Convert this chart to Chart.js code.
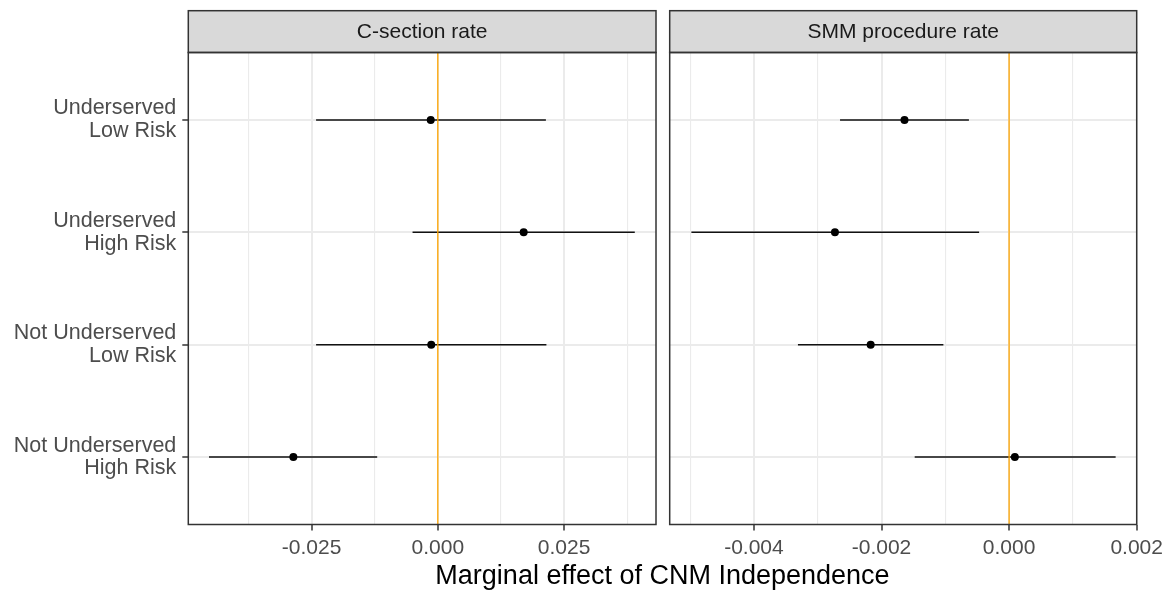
<!DOCTYPE html>
<html>
<head>
<meta charset="utf-8">
<script src="https://cdn.jsdelivr.net/npm/chart.js@4.4.1/dist/chart.umd.min.js"></script>
<style>
  body { margin: 0; background: #fff; }
  #wrap { position: relative; width: 1172px; height: 591px; }
  .panel { position: absolute; top: 0; height: 591px; }
  #p-left { left: 0; width: 662px; }
  #p-right { left: 662px; width: 510px; }
  #xtitle {
    position: absolute; left: 188px; width: 949px; top: 562px;
    text-align: center; color: #000;
    font: 27px/27px "Liberation Sans", Arial, sans-serif;
  }
</style>
</head>
<body>
<div id="wrap">
  <div class="panel" id="p-left"><canvas id="chart-csec"></canvas></div>
  <div class="panel" id="p-right"><canvas id="chart-smm"></canvas></div>
  <div id="xtitle">Marginal effect of CNM Independence</div>
</div>
<script>
const rowLabels = [
  ["Underserved", "Low Risk"],
  ["Underserved", "High Risk"],
  ["Not Underserved", "Low Risk"],
  ["Not Underserved", "High Risk"],
];
const facetTitles = ["C-section rate", "SMM procedure rate"];

// C-section rate: estimate and interval ends, one per row
const csecEst = [-0.0014, 0.0170, -0.0013, -0.0286];
const csecLow = [-0.0241, -0.0050, -0.0241, -0.0453];
const csecHigh = [0.0214, 0.0390, 0.0215, -0.0120];

// SMM procedure rate
const smmEst = [-0.00164, -0.00273, -0.00217, 0.00009];
const smmLow = [-0.00265, -0.00498, -0.00331, -0.00148];
const smmHigh = [-0.00063, -0.00047, -0.00103, 0.00167];

const csecMajorTicks = [-0.025, 0, 0.025];
const csecMinorTicks = [-0.0375, -0.0125, 0.0125, 0.0375];
const smmMajorTicks = [-0.004, -0.002, 0, 0.002];
const smmMinorTicks = [-0.005, -0.003, -0.001, 0.001];
const csecRange = [-0.0494, 0.0432];
const smmRange = [-0.00532, 0.002];
const refLine = 0;

const FONT = "'Liberation Sans', Arial, sans-serif";
const GRID = "#EBEBEB";
const DARK = "#333333";

function stripPlugin(title) {
  return {
    id: "strip",
    afterDraw(chart) {
      const a = chart.chartArea;
      const ctx = chart.ctx;
      const top = 10.7;
      ctx.save();
      ctx.fillStyle = "#D9D9D9";
      ctx.fillRect(a.left, top, a.right - a.left, a.top - top);
      ctx.strokeStyle = DARK;
      ctx.lineWidth = 1.5;
      ctx.strokeRect(a.left, top, a.right - a.left, a.top - top);
      ctx.strokeRect(a.left, a.top, a.right - a.left, a.bottom - a.top);
      ctx.fillStyle = "#1A1A1A";
      ctx.font = "21px " + FONT;
      ctx.textAlign = "center";
      ctx.textBaseline = "middle";
      ctx.fillText(title, (a.left + a.right) / 2, (top + a.top) / 2 + 1);
      ctx.restore();
    },
  };
}

function makePanel(canvasId, opt) {
  const isMajor = (v) => opt.major.some((m) => Math.abs(m - v) < 1e-9);
  const allTicks = opt.major.concat(opt.minor).sort((a, b) => a - b);

  const bars = rowLabels.map((_, i) => ({
    type: "scatter",
    showLine: true,
    data: [{ x: opt.low[i], y: i + 1 }, { x: opt.high[i], y: i + 1 }],
    borderColor: "#111",
    borderWidth: 1.5,
    pointRadius: 0,
    order: 2,
  }));

  const datasets = [
    {
      data: [{ x: refLine, y: 0.4 }, { x: refLine, y: 4.6 }],
      showLine: true,
      borderColor: "#FFA500",
      borderWidth: 1.3,
      pointRadius: 0,
      order: 0,
    },
    ...bars,
    {
      data: opt.est.map((v, i) => ({ x: v, y: i + 1 })),
      pointRadius: 4,
      pointBackgroundColor: "#000",
      pointBorderWidth: 0,
      order: 1,
    },
  ];

  return new Chart(document.getElementById(canvasId), {
    type: "scatter",
    data: { datasets },
    plugins: [stripPlugin(opt.title)],
    options: {
      responsive: true,
      maintainAspectRatio: false,
      animation: false,
      events: [],
      layout: { padding: { top: 52.5, right: opt.padRight, left: 0, bottom: 0 } },
      plugins: { legend: { display: false }, tooltip: { enabled: false } },
      scales: {
        x: {
          type: "linear",
          min: opt.range[0],
          max: opt.range[1],
          afterBuildTicks(s) { s.ticks = allTicks.map((v) => ({ value: v })); },
          afterFit(s) { s.height = 66.5; },
          ticks: {
            autoSkip: false,
            maxRotation: 0,
            padding: 5,
            color: "#4D4D4D",
            font: { family: FONT, size: 21 },
            callback: (v) => (isMajor(v) ? v.toFixed(3) : ""),
          },
          grid: {
            color: GRID,
            lineWidth: (c) => (c.tick && isMajor(c.tick.value) ? 2 : 1.1),
            tickColor: (c) => (c.tick && isMajor(c.tick.value) ? DARK : "rgba(0,0,0,0)"),
            tickLength: 6,
            tickWidth: 1.5,
          },
          border: { display: false },
        },
        y: {
          type: "linear",
          reverse: true,
          min: 0.4,
          max: 4.6,
          afterBuildTicks(s) { s.ticks = rowLabels.map((_, i) => ({ value: i + 1 })); },
          afterFit(s) { s.width = opt.yWidth; },
          ticks: {
            display: opt.showLabels,
            padding: 6,
            color: "#4D4D4D",
            font: { family: FONT, size: 21.5, lineHeight: 1.06 },
            callback: (v) => rowLabels[Math.round(v) - 1],
          },
          grid: {
            color: GRID,
            lineWidth: 2,
            drawTicks: opt.showLabels,
            tickColor: DARK,
            tickLength: 6,
            tickWidth: 1.5,
          },
          border: { display: false },
        },
      },
    },
  });
}

makePanel("chart-csec", {
  title: facetTitles[0],
  est: csecEst, low: csecLow, high: csecHigh,
  major: csecMajorTicks, minor: csecMinorTicks, range: csecRange,
  yWidth: 188.3, padRight: 6, showLabels: true,
});

makePanel("chart-smm", {
  title: facetTitles[1],
  est: smmEst, low: smmLow, high: smmHigh,
  major: smmMajorTicks, minor: smmMinorTicks, range: smmRange,
  yWidth: 7.7, padRight: 35.3, showLabels: false,
});
</script>
</body>
</html>
